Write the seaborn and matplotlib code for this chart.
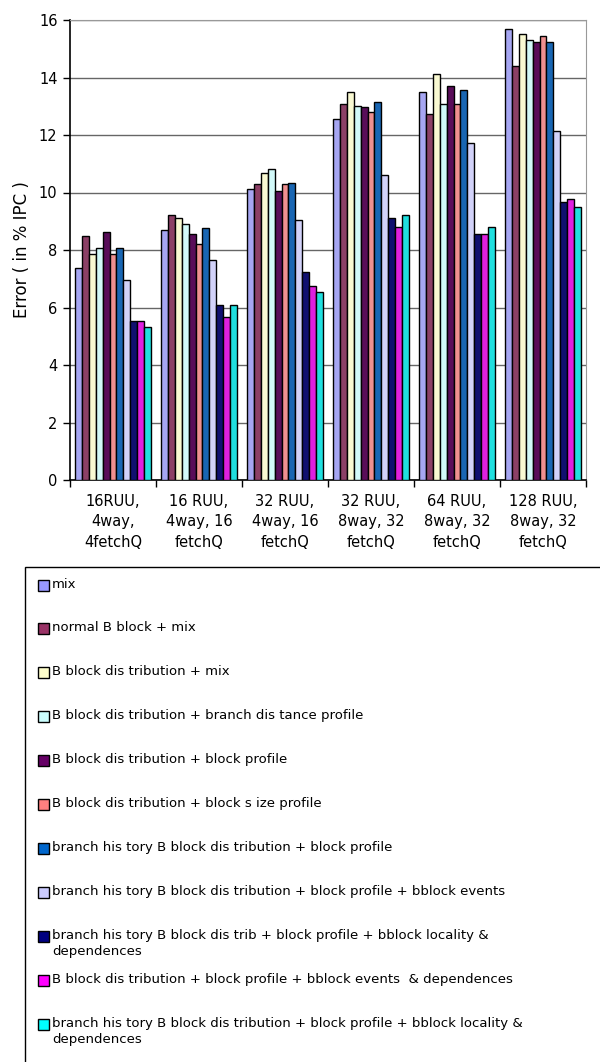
import numpy as np
import pandas as pd
import seaborn as sns
import matplotlib.pyplot as plt
from matplotlib.patches import Rectangle

# %%
categories = ["16RUU,\n4way,\n4fetchQ", "16 RUU,\n4way, 16\nfetchQ", "32 RUU,\n4way, 16\nfetchQ",
              "32 RUU,\n8way, 32\nfetchQ", "64 RUU,\n8way, 32\nfetchQ", "128 RUU,\n8way, 32\nfetchQ"]

series = ["mix",
          "normal B block + mix",
          "B block dis tribution + mix",
          "B block dis tribution + branch dis tance profile",
          "B block dis tribution + block profile",
          "B block dis tribution + block s ize profile",
          "branch his tory B block dis tribution + block profile",
          "branch his tory B block dis tribution + block profile + bblock events",
          "branch his tory B block dis trib + block profile + bblock locality &\ndependences",
          "B block dis tribution + block profile + bblock events  & dependences",
          "branch his tory B block dis tribution + block profile + bblock locality &\ndependences"]

colors = ["#9999FF", "#993366", "#FFFFCC", "#CCFFFF", "#660066", "#FF8080",
          "#0066CC", "#CCCCFF", "#000080", "#FF00FF", "#00FFFF"]

mix            = [7.39, 8.70, 10.13, 12.54, 13.51, 15.70]
normal_bb      = [8.49, 9.23, 10.28, 13.08, 12.74, 14.40]
bb_mix         = [7.86, 9.10, 10.68, 13.51, 14.12, 15.50]
bb_branchdist  = [8.08, 8.89, 10.81, 13.02, 13.09, 15.29]
bb_block       = [8.63, 8.54, 10.06, 12.96, 13.70, 15.22]
bb_size        = [7.86, 8.21, 10.28, 12.81, 13.09, 15.43]
bh_block       = [8.06, 8.75, 10.34, 13.16, 13.57, 15.22]
bh_events      = [6.97, 7.66, 9.04, 10.62, 11.72, 12.13]
bh_locality    = [5.53, 6.08, 7.23, 9.10, 8.54, 9.66]
bb_events_dep  = [5.53, 5.66, 6.76, 8.81, 8.54, 9.79]
bh_locality2   = [5.31, 6.08, 6.55, 9.23, 8.81, 9.51]

values = [mix, normal_bb, bb_mix, bb_branchdist, bb_block, bb_size,
          bh_block, bh_events, bh_locality, bb_events_dep, bh_locality2]

# %%
rows = []
for s_i, s in enumerate(series):
    for c_i, c in enumerate(categories):
        rows.append({"config": c, "series": f"{s_i}", "error": values[s_i][c_i]})
df = pd.DataFrame(rows)

sns.set_style("white")
plt.rcParams["font.family"] = ["DejaVu Sans"]
plt.rcParams["text.color"] = "black"
plt.rcParams["axes.labelcolor"] = "black"
plt.rcParams["xtick.color"] = "black"
plt.rcParams["ytick.color"] = "black"

W, H = 600, 1062
fig = plt.figure(figsize=(W / 100, H / 100), dpi=100)
ax = fig.add_axes([70 / W, 1 - 480 / H, 516 / W, 460 / H])

sns.barplot(data=df, x="config", y="error", hue="series", palette=colors,
            width=0.89, edgecolor="black", linewidth=1, legend=False, ax=ax, zorder=3)

ax.set_ylim(0, 16)
ax.set_xlim(-0.5, len(categories) - 0.5)
ax.set_yticks(np.arange(0, 17, 2))
ax.tick_params(axis="y", left=True, length=5, width=1, color="black", labelsize=10.5, pad=4)
ax.yaxis.grid(True, color="#666666", linewidth=1, zorder=0)
ax.set_axisbelow(True)

ax.tick_params(axis="x", which="major", length=0, labelsize=10.5, pad=10)
ax.set_xticks(np.arange(-0.5, len(categories)), minor=True)
ax.tick_params(axis="x", which="minor", bottom=True, length=5, width=1, color="black")
for lbl in ax.get_xticklabels():
    lbl.set_linespacing(1.45)

ax.set_xlabel("")
ax.set_ylabel("Error ( in % IPC )", fontsize=12, labelpad=6)

for side in ["top", "right"]:
    ax.spines[side].set_color("#999999")
for side in ["left", "bottom"]:
    ax.spines[side].set_color("black")
    ax.spines[side].set_linewidth(1.2)

# legend drawn as a boxed list below the chart
fig.add_artist(Rectangle((25 / W, -0.01), 1.0, 0.01 + (1 - 567 / H),
                         transform=fig.transFigure, fill=False,
                         edgecolor="black", linewidth=1, clip_on=False))
for i, (s, col) in enumerate(zip(series, colors)):
    yc = 585 + i * 43.9
    fig.add_artist(Rectangle((38 / W, 1 - (yc + 5.5) / H), 11 / W, 11 / H,
                             transform=fig.transFigure, facecolor=col,
                             edgecolor="black", linewidth=1))
    fig.text(52 / W, 1 - (yc - 7.5) / H, s, fontsize=9.5, va="top", ha="left",
             linespacing=1.3, color="black")

fig.savefig("out.png", dpi=100)
